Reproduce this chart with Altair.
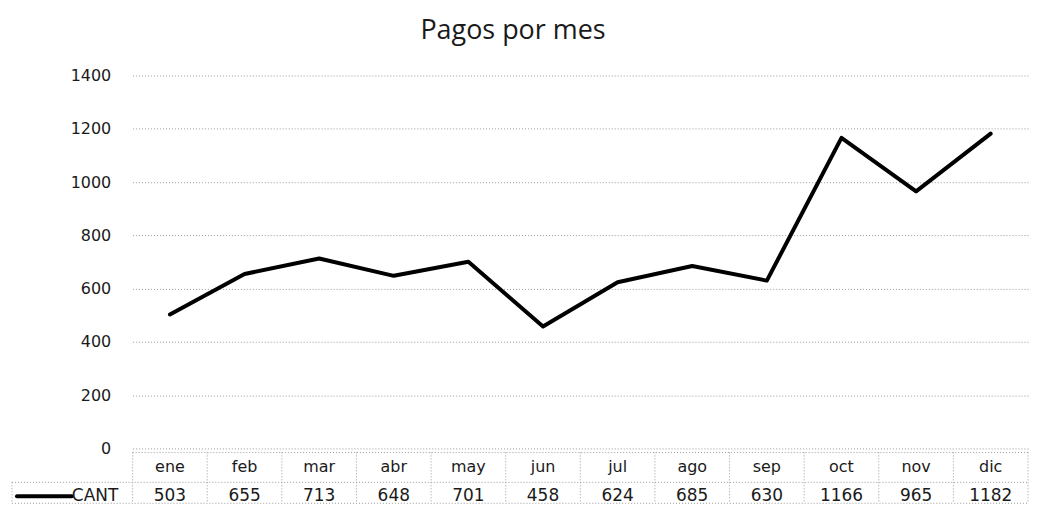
import altair as alt
import pandas as pd

# ---- data ----
meses = ["ene", "feb", "mar", "abr", "may", "jun", "jul", "ago", "sep", "oct", "nov", "dic"]
cant = [503, 655, 713, 648, 701, 458, 624, 685, 630, 1166, 965, 1182]
serie = "CANT"
titulo = "Pagos por mes"
y_ticks = [0, 200, 400, 600, 800, 1000, 1200, 1400]

df = pd.DataFrame({"mes": meses, "cant": cant})
one = pd.DataFrame({"k": [0]})

W, H = 898, 374
FONT = "DejaVu Sans"
TFONT = "Open Sans"
TXT = "#1a1a1a"
GRID = "#9a9a9a"

# table geometry (pixels relative to plot area)
T_TOP, T_MID, T_BOT = H + 4, H + 34, H + 55
LEFT = -121
ROW1_Y, ROW2_Y = H + 19, H + 48

xscale = alt.Scale(type="band", domain=meses, paddingInner=0, paddingOuter=0)

def xc(pos=0.5):
    return alt.X("mes:N", sort=meses, scale=xscale, axis=None, bandPosition=pos)

yscale = alt.Scale(domain=[0, 1400], nice=False, zero=True)

line = alt.Chart(df).mark_line(color="#000000", strokeWidth=4, strokeJoin="round", strokeCap="round").encode(
    x=xc(0.5),
    y=alt.Y("cant:Q", scale=yscale, axis=alt.Axis(
        values=y_ticks, format="d", grid=True, gridColor=GRID, gridDash=[1, 2], gridWidth=1,
        domain=False, ticks=False, labelPadding=22, labelFontSize=16, labelFont=FONT,
        labelColor=TXT, title=None)),
)

month_txt = alt.Chart(df).mark_text(font=FONT, fontSize=16, color=TXT, baseline="middle").encode(
    x=xc(0.5), y=alt.value(ROW1_Y), text="mes:N")
val_txt = alt.Chart(df).mark_text(font=FONT, fontSize=17, color=TXT, baseline="middle").encode(
    x=xc(0.5), y=alt.value(ROW2_Y), text="cant:Q")

vsep = alt.Chart(df).mark_rule(color=GRID, strokeDash=[1, 2], strokeWidth=1).encode(
    x=xc(0), y=alt.value(T_TOP), y2=alt.value(T_BOT))
vright = alt.Chart(one).mark_rule(color=GRID, strokeDash=[1, 2], strokeWidth=1).encode(
    x=alt.value(W), y=alt.value(T_TOP), y2=alt.value(T_BOT))
vleft = alt.Chart(one).mark_rule(color=GRID, strokeDash=[1, 2], strokeWidth=1).encode(
    x=alt.value(LEFT), y=alt.value(T_MID), y2=alt.value(T_BOT))
htop = alt.Chart(one).mark_rule(color=GRID, strokeDash=[1, 2], strokeWidth=1).encode(
    x=alt.value(0), x2=alt.value(W), y=alt.value(T_TOP))
hmid = alt.Chart(one).mark_rule(color=GRID, strokeDash=[1, 2], strokeWidth=1).encode(
    x=alt.value(LEFT), x2=alt.value(W), y=alt.value(T_MID))
hbot = alt.Chart(one).mark_rule(color=GRID, strokeDash=[1, 2], strokeWidth=1).encode(
    x=alt.value(LEFT), x2=alt.value(W), y=alt.value(T_BOT))

leg_line = alt.Chart(one).mark_rule(color="#000000", strokeWidth=4, strokeCap="round").encode(
    x=alt.value(LEFT + 5), x2=alt.value(LEFT + 60), y=alt.value(ROW2_Y))
leg_txt = alt.Chart(pd.DataFrame({"s": [serie]})).mark_text(
    font=FONT, fontSize=17, color=TXT, align="left", baseline="middle").encode(
    x=alt.value(LEFT + 60), y=alt.value(ROW2_Y), text="s:N")

chart = alt.layer(
    htop, hmid, hbot, vsep, vright, vleft, line, month_txt, val_txt, leg_line, leg_txt
).properties(
    width=W, height=H,
    padding={"left": 3, "top": 8, "right": 0, "bottom": 0},
    title=alt.TitleParams(titulo, fontSize=27, font=TFONT, fontWeight="normal", color=TXT,
                          anchor="middle", frame="bounds", offset=23, dx=-7),
).configure_view(stroke=None)

chart.save("out.html", embed_options={"renderer": "svg", "actions": False})
